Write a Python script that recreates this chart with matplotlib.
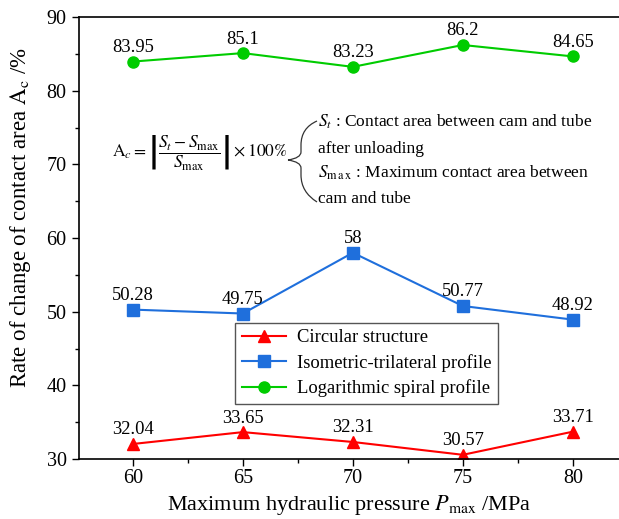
import numpy as np
import matplotlib.pyplot as plt
from matplotlib.path import Path
from matplotlib.patches import PathPatch
from matplotlib.ticker import MultipleLocator

plt.rcParams['font.family'] = 'Liberation Serif'
plt.rcParams['mathtext.fontset'] = 'stix'
plt.rcParams['xtick.direction'] = 'out'
plt.rcParams['ytick.direction'] = 'out'

pressure = [60, 65, 70, 75, 80]
circular = [32.04, 33.65, 32.31, 30.57, 33.71]
isometric = [50.28, 49.75, 58, 50.77, 48.92]
log_spiral = [83.95, 85.1, 83.23, 86.2, 84.65]

fig = plt.figure(figsize=(6.19, 5.19), dpi=100)
ax = fig.add_axes([79/619, 1-459/519, 1-79/619, (459-17)/519])

series = [
    (circular, 'Circular structure', '#ff0000', '^'),
    (isometric, 'Isometric-trilateral profile', '#1f6fdc', 's'),
    (log_spiral, 'Logarithmic spiral profile', '#00cc00', 'o'),
]
for vals, name, col, mk in series:
    ax.plot(pressure, vals, color=col, marker=mk, markersize=8, lw=1.5, label=name)
    for x, y in zip(pressure, vals):
        ax.annotate(f'{y:g}', (x, y), xytext=(0, 4), textcoords='offset points',
                    ha='center', va='bottom', fontsize=13.3)

ax.set_xlim(57.55, 82.1)
ax.set_ylim(30, 90)
ax.set_xticks(pressure)
ax.xaxis.set_minor_locator(MultipleLocator(2.5))
ax.yaxis.set_major_locator(MultipleLocator(10))
ax.yaxis.set_minor_locator(MultipleLocator(5))
ax.tick_params(which='major', length=5, width=1, labelsize=14.5, pad=4)
ax.tick_params(axis='x', which='major', pad=2)
ax.tick_params(which='minor', length=3, width=1)
ax.spines['right'].set_visible(False)
for s in ['left', 'bottom', 'top']:
    ax.spines[s].set_linewidth(1.2)

ax.set_xlabel(r'Maximum hydraulic pressure $P_{\max}$ /MPa', fontsize=16)
ax.xaxis.set_label_coords(0.5, -0.078)
ax.set_ylabel(r'Rate of change of contact area $\mathrm{A_c}$ /%', fontsize=16.5)
ax.yaxis.set_label_coords(-0.085, 0.547)

leg = ax.legend(loc='upper left', bbox_to_anchor=(0.289, 0.308), borderaxespad=0,
                fontsize=13.4, fancybox=False, framealpha=1, edgecolor='#555555',
                handlelength=2.4, handletextpad=0.6, labelspacing=0.4, borderpad=0.35)
leg.get_frame().set_linewidth(1)

# formula and the brace with its explanation
ax.text(112, 519 - 152, r'$\mathrm{A}_c=\left|\dfrac{S_t-S_{\max}}{S_{\max}}\right|\times100\%$',
        transform=None, fontsize=12.6, va='center', ha='left')


def px(x, y):
    return (x, 519 - y)


verts = [px(317, 121), px(301, 128), px(301, 145), px(301, 152),
         px(301, 158), px(288, 160), px(288, 160),
         px(301, 162), px(301, 168), px(301, 175),
         px(301, 192), px(317, 202)]
codes = [Path.MOVETO, Path.CURVE3, Path.CURVE3, Path.LINETO,
         Path.CURVE3, Path.CURVE3, Path.MOVETO,
         Path.CURVE3, Path.CURVE3, Path.LINETO,
         Path.CURVE3, Path.CURVE3]
fig.add_artist(PathPatch(Path(verts, codes), transform=None, fill=False, lw=0.9, color='#333333'))

notes = [(r'$S_t$ : Contact area between cam and tube', 122),
         ('after unloading', 149),
         (r'$S_{\mathrm{m\,a\,x}}$ : Maximum contact area between', 173),
         ('cam and tube', 199)]
for txt, y in notes:
    fig.text(318/619, 1 - y/519, txt, fontsize=12.5, va='center', ha='left')

fig.savefig('out.png', dpi=100)
